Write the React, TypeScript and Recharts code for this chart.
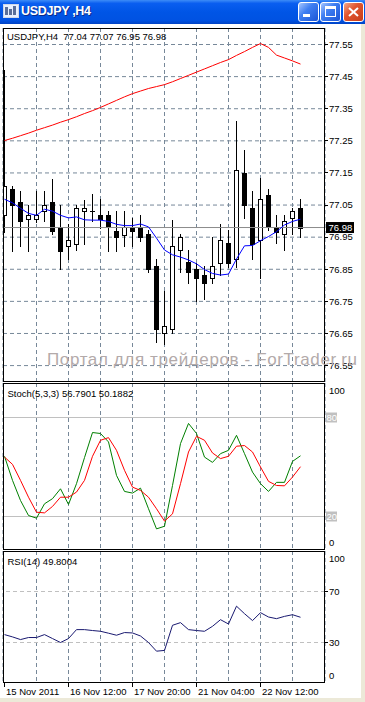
import React from 'react';
import { ComposedChart, Bar, Line, XAxis, YAxis, CartesianGrid, ReferenceLine } from 'recharts';

// USDJPY H4 bars (bar 0 = 15 Nov 2011 04:00)
const opens = [77.019, 77.101, 77.06, 77.008, 77.008, 77.032, 77.06, 76.981, 76.921, 76.93, 77.031, 77.031, 77.019, 77.019, 76.97, 76.958, 76.981, 76.981, 76.959, 76.86, 76.65, 76.663, 76.909, 76.873, 76.85, 76.832, 76.822, 76.871, 76.931, 76.881, 77.15, 77.042, 76.942, 77.081, 76.981, 76.959, 77.009, 77.04];
const highs = [77.471, 77.11, 77.093, 77.051, 77.093, 77.093, 77.131, 77.051, 76.992, 77.051, 77.067, 77.084, 77.069, 77.032, 77.032, 77.032, 77.009, 77.02, 76.973, 76.882, 76.783, 77.002, 76.959, 76.91, 76.869, 76.86, 76.952, 76.992, 76.971, 77.311, 77.221, 77.093, 77.133, 77.101, 77.02, 77.02, 77.042, 77.07];
const lows = [76.967, 76.908, 76.921, 76.908, 76.998, 76.999, 76.959, 76.85, 76.881, 76.91, 76.93, 76.999, 76.978, 76.908, 76.908, 76.921, 76.921, 76.939, 76.841, 76.622, 76.617, 76.65, 76.841, 76.808, 76.75, 76.758, 76.808, 76.832, 76.858, 76.858, 77.009, 76.881, 76.822, 76.971, 76.931, 76.91, 76.959, 76.95];
const closes = [77.108, 77.049, 76.999, 77.019, 77.019, 77.05, 76.968, 76.908, 76.942, 77.041, 77.041, 77.031, 77.008, 76.981, 76.949, 76.981, 76.968, 76.949, 76.85, 76.663, 76.673, 76.922, 76.95, 76.841, 76.822, 76.808, 76.86, 76.942, 76.871, 77.16, 77.049, 76.929, 77.069, 76.981, 76.967, 77.0, 77.031, 76.98];

const maSlow = [77.251, 77.258, 77.266, 77.274, 77.283, 77.291, 77.299, 77.308, 77.316, 77.325, 77.335, 77.344, 77.354, 77.365, 77.376, 77.387, 77.397, 77.405, 77.413, 77.419, 77.425, 77.434, 77.444, 77.454, 77.464, 77.474, 77.484, 77.494, 77.503, 77.516, 77.528, 77.541, 77.553, 77.541, 77.517, 77.508, 77.499, 77.489];
const maFast = [77.068, 77.057, 77.04, 77.024, 77.018, 77.037, 77.031, 77.018, 77.01, 77.013, 77.004, 77.003, 77.003, 76.999, 76.99, 76.986, 76.986, 76.991, 76.982, 76.947, 76.91, 76.895, 76.888, 76.879, 76.867, 76.849, 76.837, 76.832, 76.835, 76.882, 76.923, 76.924, 76.939, 76.952, 76.967, 76.988, 76.999, 77.006];

const stochMain = [56.5, 41.9, 29.7, 20.6, 19.0, 27.7, 30.8, 36.8, 27.3, 39.9, 55.7, 70.9, 70.3, 65.2, 44.9, 35.2, 34.2, 37.2, 24.7, 12.5, 14.1, 38.8, 64.2, 76.4, 70.3, 56.0, 52.8, 58.1, 60.1, 69.2, 58.1, 46.9, 39.9, 35.2, 40.7, 40.7, 53.4, 56.79];
const stochSignal = [56.0, 51.6, 41.9, 31.7, 22.6, 22.2, 26.1, 31.7, 31.7, 34.8, 41.9, 56.5, 66.2, 67.8, 60.1, 48.0, 37.8, 35.8, 31.7, 24.7, 17.2, 21.6, 39.9, 59.1, 68.6, 66.2, 58.5, 55.1, 56.5, 62.6, 63.0, 59.1, 50.0, 41.3, 38.8, 38.6, 43.9, 50.19];
const rsiValues = [36.2, 34.4, 32.3, 33.9, 33.9, 36.2, 33.1, 30.0, 33.1, 40.1, 40.1, 39.4, 38.8, 37.3, 35.7, 37.8, 37.5, 35.1, 30.0, 23.2, 23.8, 43.5, 45.6, 40.1, 39.4, 38.8, 42.7, 47.9, 44.5, 58.5, 52.6, 47.2, 53.4, 50.0, 48.7, 50.5, 51.8, 49.8];

const priceTicks = [76.55, 76.65, 76.75, 76.85, 76.95, 77.05, 77.15, 77.25, 77.35, 77.45, 77.55];
const gridBars = [4, 8, 12, 16, 20, 24, 28, 32, 36];
const labelBars = [0, 8, 16, 24, 32];
const timeLabels = ['15 Nov 2011', '16 Nov 12:00', '17 Nov 20:00', '21 Nov 04:00', '22 Nov 12:00'];
const bidPrice = 76.98;

const rows = opens.map((o, i) => ({
  i,
  open: o,
  high: highs[i],
  low: lows[i],
  close: closes[i],
  range: [lows[i], highs[i]],
  maSlow: maSlow[i],
  maFast: maFast[i],
  k: stochMain[i],
  d: stochSignal[i],
  rsi: rsiValues[i],
}));

const X_DOMAIN = [-0.1875, 40.0625];
const FONT = '"Liberation Sans", Arial, sans-serif';
const GRID = '#778899';
const PLOT_RIGHT = 325;

const Candle = (props: any) => {
  const { x, y, width, height } = props;
  const p = props.payload || props;
  if (x == null || y == null || !p || p.high == null) return null;
  const top = Math.min(y, y + height);
  const h = Math.abs(height);
  const ratio = p.high === p.low ? 0 : h / (p.high - p.low);
  const cx = x + width / 2;
  const yo = top + (p.high - p.open) * ratio;
  const yc = top + (p.high - p.close) * ratio;
  const bTop = Math.round(Math.min(yo, yc));
  const bBot = Math.round(Math.max(yo, yc));
  const wTop = Math.round(top);
  const wBot = Math.round(top + h);
  const bull = p.close >= p.open;
  return (
    <g shapeRendering="crispEdges">
      <line x1={cx} x2={cx} y1={wTop} y2={wBot + 1} stroke="#000" strokeWidth={1} />
      {bull ? (
        bBot - bTop < 1 ? (
          <line x1={cx - 2.5} x2={cx + 2.5} y1={bTop + 0.5} y2={bTop + 0.5} stroke="#000" />
        ) : (
          <rect x={cx - 2} y={bTop + 0.5} width={4} height={bBot - bTop} fill="#fff" stroke="#000" strokeWidth={1} />
        )
      ) : (
        <rect x={cx - 2.5} y={bTop} width={5} height={Math.max(1, bBot - bTop + 1)} fill="#000" />
      )}
    </g>
  );
};

const PriceTick = (props: any) => {
  const { y, payload } = props;
  return (
    <g>
      <line x1={PLOT_RIGHT} x2={PLOT_RIGHT + 3} y1={y} y2={y} stroke="#000" shapeRendering="crispEdges" />
      <text x={PLOT_RIGHT + 4} y={y} dy="0.35em" fontSize={9.5} fontFamily={FONT} fill="#000">
        {Number(payload.value).toFixed(2)}
      </text>
    </g>
  );
};

const StochTick = (props: any) => {
  const { y, payload } = props;
  const v = payload.value;
  if (v === 80 || v === 20) {
    return (
      <g>
        <rect x={PLOT_RIGHT + 1} y={y - 5} width={11} height={10} fill="#c0c0c0" />
        <text x={PLOT_RIGHT + 1.5} y={y} dy="0.35em" fontSize={9.5} fontFamily={FONT} fill="#fff">{v}</text>
      </g>
    );
  }
  const dy = v === 100 ? 6 : -7;
  return (
    <text x={PLOT_RIGHT + 4} y={y + dy} dy="0.35em" fontSize={9.5} fontFamily={FONT} fill="#000">{v}</text>
  );
};

const RsiTick = (props: any) => {
  const { y, payload } = props;
  const v = payload.value;
  if (v === 70 || v === 30) {
    return (
      <g>
        <line x1={PLOT_RIGHT} x2={PLOT_RIGHT + 3} y1={y} y2={y} stroke="#000" shapeRendering="crispEdges" />
        <text x={PLOT_RIGHT + 4} y={y} dy="0.35em" fontSize={9.5} fontFamily={FONT} fill="#000">{v}</text>
      </g>
    );
  }
  const dy = v === 100 ? 5 : -5;
  return (
    <text x={PLOT_RIGHT + 4} y={y + dy} dy="0.35em" fontSize={9.5} fontFamily={FONT} fill="#000">{v}</text>
  );
};

const TimeTick = (props: any) => {
  const { x, payload } = props;
  const idx = labelBars.indexOf(payload.value);
  return (
    <g>
      <line x1={x} x2={x} y1={132} y2={136} stroke="#000" shapeRendering="crispEdges" />
      <text x={x + 1.5} y={141} dy="0.35em" fontSize={9.5} fontFamily={FONT} fill="#000">
        {timeLabels[idx]}
      </text>
    </g>
  );
};

const BidLabel = (props: any) => {
  const vb = props.viewBox || {};
  if (vb.y == null) return null;
  const x = (vb.x || 0) + (vb.width || 0) + 1;
  return (
    <g>
      <rect x={x} y={vb.y - 5.5} width={28} height={11} fill="#000" />
      <text x={x + 2.5} y={vb.y} dy="0.35em" fontSize={9.5} fontFamily={FONT} fill="#fff">
        {bidPrice.toFixed(2)}
      </text>
    </g>
  );
};

const panelBorder = (top: number, height: number): React.CSSProperties => ({
  position: 'absolute',
  left: 3,
  top,
  width: 322,
  height,
  border: '1px solid #000',
  boxSizing: 'border-box',
  pointerEvents: 'none',
});

const btnStyle = (left: number, red: boolean): React.CSSProperties => ({
  position: 'absolute',
  left,
  top: 2,
  width: 21,
  height: 20,
  borderRadius: 3,
  border: '1px solid #fff',
  boxSizing: 'border-box',
  background: red
    ? 'linear-gradient(135deg, #f3a88a 0%, #e2562f 40%, #c73d1a 100%)'
    : 'linear-gradient(135deg, #a6c6ff 0%, #3f7ff2 40%, #1c55d6 100%)',
});

const App: React.FC = () => {
  return (
    <div style={{ position: 'absolute', left: 0, top: 0, width: 365, height: 702, background: '#fff', overflow: 'hidden' }}>
      {/* title bar */}
      <div
        style={{
          position: 'absolute',
          left: 0,
          top: 0,
          width: 365,
          height: 24,
          background: 'linear-gradient(to bottom, #3d8cf7 0%, #0a5ef0 14%, #0055e6 50%, #0052e2 85%, #0043c6 100%)',
        }}
      >
        <svg style={{ position: 'absolute', left: 3, top: 4 }} width={16} height={15}>
          <rect x={0.5} y={0.5} width={15} height={13} fill="#e8f0ff" stroke="#cfd8e8" />
          <rect x={2} y={3} width={3} height={8} fill="#5a6f9a" />
          <rect x={6} y={5} width={3} height={6} fill="#5a6f9a" />
          <rect x={10} y={2} width={3} height={9} fill="#5a6f9a" />
        </svg>
        <span
          style={{
            position: 'absolute',
            left: 21,
            top: 4,
            color: '#fff',
            fontFamily: FONT,
            fontWeight: 'bold',
            fontSize: 12.5,
            letterSpacing: -0.3,
            whiteSpace: 'pre',
            textShadow: '1px 1px 0 #0a2a8a',
          }}
        >
          USDJPY ,H4
        </span>
        <div style={btnStyle(298, false)}>
          <div style={{ position: 'absolute', left: 4, top: 11, width: 7, height: 3, background: '#fff' }} />
        </div>
        <div style={btnStyle(320, false)}>
          <div style={{ position: 'absolute', left: 4, top: 3, width: 11, height: 11, border: '1px solid #fff', borderTop: '3px solid #fff', boxSizing: 'border-box' }} />
        </div>
        <div style={btnStyle(343, true)}>
          <svg style={{ position: 'absolute', left: 4, top: 4 }} width={11} height={10}>
            <line x1={1} y1={1} x2={10} y2={9} stroke="#fff" strokeWidth={2} />
            <line x1={10} y1={1} x2={1} y2={9} stroke="#fff" strokeWidth={2} />
          </svg>
        </div>
      </div>
      <div style={{ position: 'absolute', left: 361, top: 24, width: 4, height: 678, background: '#ece9d8' }} />
      <div style={{ position: 'absolute', left: 0, top: 698, width: 365, height: 4, background: '#ece9d8' }} />

      {/* price panel */}
      <div style={{ position: 'absolute', left: 0, top: 28 }}>
        <ComposedChart width={365} height={354} data={rows} margin={{ top: 0, right: 0, bottom: 0, left: 3 }}>
          <CartesianGrid stroke={GRID} strokeDasharray="4 3" />
          <XAxis dataKey="i" type="number" domain={X_DOMAIN} ticks={gridBars} interval={0} hide allowDataOverflow />
          <YAxis
            orientation="right"
            type="number"
            width={40}
            domain={[76.4989, 77.6014]}
            ticks={priceTicks}
            interval={0}
            allowDataOverflow
            axisLine={false}
            tickLine={false}
            tick={<PriceTick />}
          />
          <ReferenceLine y={bidPrice} stroke="#8c8c8c" label={<BidLabel />} />
          <Bar dataKey="range" barSize={5} shape={<Candle />} isAnimationActive={false} />
          <Line dataKey="maFast" type="linear" stroke="#0000ff" strokeWidth={1} dot={false} isAnimationActive={false} />
          <Line dataKey="maSlow" type="linear" stroke="#ff0000" strokeWidth={1} dot={false} isAnimationActive={false} />
        </ComposedChart>
      </div>

      {/* stochastic panel */}
      <div style={{ position: 'absolute', left: 0, top: 383 }}>
        <ComposedChart width={365} height={167} data={rows} margin={{ top: 0, right: 0, bottom: 0, left: 3 }}>
          <CartesianGrid stroke={GRID} strokeDasharray="4 3" horizontal={false} />
          <XAxis dataKey="i" type="number" domain={X_DOMAIN} ticks={gridBars} interval={0} hide allowDataOverflow />
          <YAxis
            orientation="right"
            type="number"
            width={40}
            domain={[-0.3, 100.91]}
            ticks={[0, 20, 80, 100]}
            interval={0}
            allowDataOverflow
            axisLine={false}
            tickLine={false}
            tick={<StochTick />}
          />
          <ReferenceLine y={80} stroke="#c0c0c0" />
          <ReferenceLine y={20} stroke="#c0c0c0" />
          <Line dataKey="k" type="linear" stroke="#008000" strokeWidth={1} dot={false} isAnimationActive={false} />
          <Line dataKey="d" type="linear" stroke="#ff0000" strokeWidth={1} dot={false} isAnimationActive={false} />
        </ComposedChart>
      </div>

      {/* RSI panel */}
      <div style={{ position: 'absolute', left: 0, top: 551 }}>
        <ComposedChart width={365} height={150} data={rows} margin={{ top: 0, right: 0, bottom: 0, left: 3 }}>
          <CartesianGrid stroke={GRID} strokeDasharray="4 3" horizontal={false} />
          <XAxis dataKey="i" type="number" domain={X_DOMAIN} ticks={gridBars} interval={0} hide allowDataOverflow />
          <XAxis
            xAxisId="time"
            dataKey="i"
            type="number"
            domain={X_DOMAIN}
            ticks={labelBars}
            interval={0}
            height={18}
            allowDataOverflow
            axisLine={false}
            tickLine={false}
            tick={<TimeTick />}
          />
          <YAxis
            orientation="right"
            type="number"
            width={40}
            domain={[-1.76, 101.76]}
            ticks={[0, 30, 70, 100]}
            interval={0}
            allowDataOverflow
            axisLine={false}
            tickLine={false}
            tick={<RsiTick />}
          />
          <ReferenceLine y={70} stroke="#c0c0c0" strokeDasharray="4 3" />
          <ReferenceLine y={30} stroke="#c0c0c0" strokeDasharray="4 3" />
          <Line dataKey="rsi" type="linear" stroke="#191970" strokeWidth={1} dot={false} isAnimationActive={false} />
        </ComposedChart>
      </div>

      <div style={panelBorder(28, 354)} />
      <div style={panelBorder(383, 167)} />
      <div style={panelBorder(551, 132)} />

      <svg style={{ position: 'absolute', left: 0, top: 0, pointerEvents: 'none' }} width={365} height={702}>
        <text x={7} y={36.5} dy="0.35em" fontSize={9.5} fontFamily={FONT} fill="#000" style={{ whiteSpace: 'pre' }}>
          USDJPY,H4  77.04 77.07 76.95 76.98
        </text>
        <text x={7.5} y={393.7} dy="0.35em" fontSize={9.5} fontFamily={FONT} fill="#000">
          Stoch(5,3,3) 56.7901 50.1882
        </text>
        <text x={7.5} y={561.5} dy="0.35em" fontSize={9.5} fontFamily={FONT} fill="#000">
          RSI(14) 49.8004
        </text>
        <text x={47} y={365} fontSize={17} fontFamily={FONT} fill="#b3aaaa" textLength={310} lengthAdjust="spacing">
          Портал для трейдеров - ForTrader.ru
        </text>
      </svg>
    </div>
  );
};

export default App;
